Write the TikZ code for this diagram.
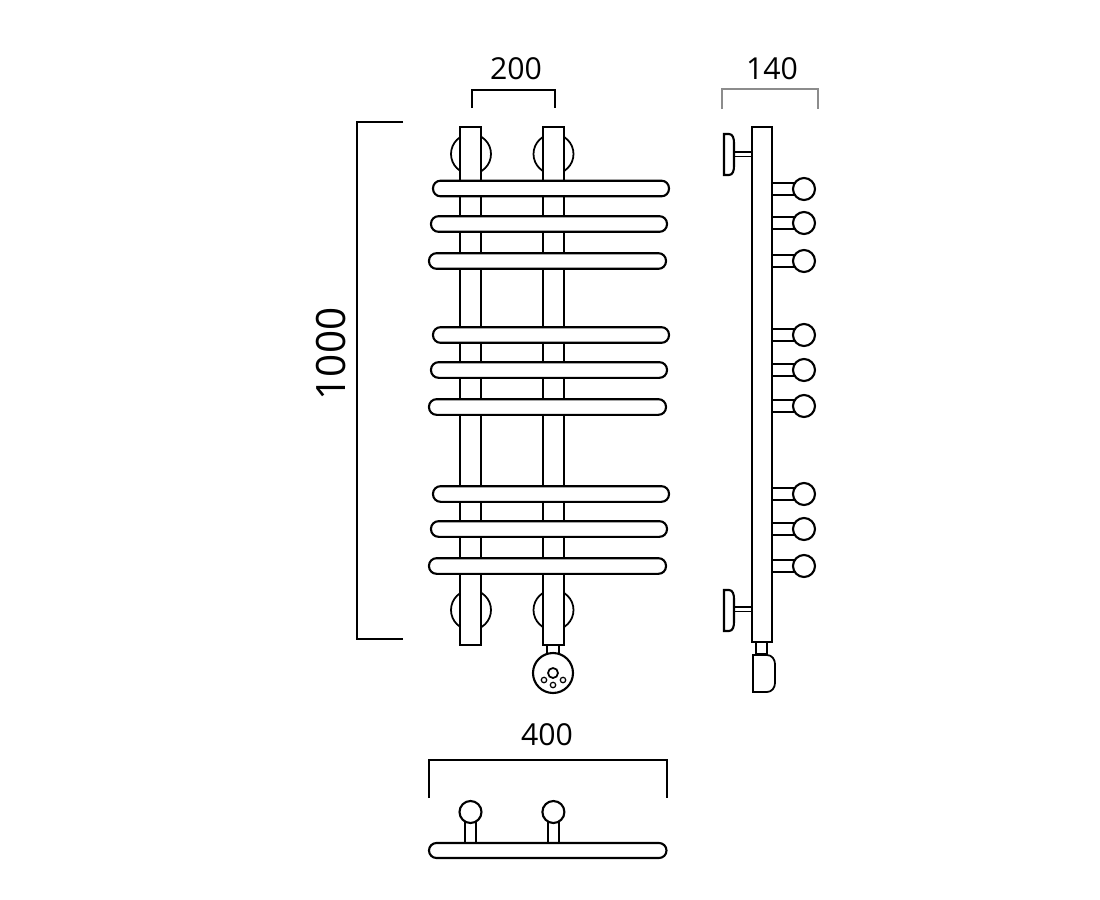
\documentclass[tikz,border=0pt]{standalone}
\usepackage{fontspec}
\setmainfont{Open Sans}
\usepackage{tikz}
\usepackage{xcolor}
\definecolor{dimgray}{gray}{0.55}

\begin{document}
\begin{tikzpicture}[x=0.01cm,y=-0.01cm,
    part/.style={draw=black, line width=0.6pt, fill=white},
    railbar/.style={part, rounded corners=0.075cm},
    dimline/.style={draw=black, line width=0.35pt},
    dimlabel/.style={inner sep=0pt, font=\fontsize{8.6}{10}\selectfont}]
    \useasboundingbox (0,0) rectangle (1100,900);

    % Wall mounts behind the posts
    \foreach \mx in {471,553.5}
        \foreach \my in {154,610}
            \draw[part, line width=0.5pt] (\mx,\my) circle (20);

    % Posts of the front view
    \draw[part] (460,127) rectangle (481,645);
    \draw[part] (543,127) rectangle (564,645);

    % Cross bars
    \foreach \xa/\xb/\yc in {433/669/188.5, 431/667/224, 429/666/261,
                             433/669/335, 431/667/370, 429/666/407,
                             433/669/494, 431/667/529, 429/666/566}
        \draw[railbar] (\xa,\yc-7.8) rectangle (\xb,\yc+7.8);

    % Heating element, front
    \draw[part] (547,645) rectangle (559,654);
    \draw[part] (553,673) circle (20);
    \draw[part, line width=0.5pt] (553,673) circle (5);
    \foreach \hx/\hy in {544/680, 553/685, 563/680}
        \draw[part, line width=0.35pt] (\hx,\hy) circle (2.7);

    % Side view: brackets
    \foreach \py/\sy in {134/152, 590/607}{
        \draw[part, line width=0.5pt] (734,\sy) rectangle (752,\sy+4.5);
        \draw[part] (724,\py) -- (729,\py) to[out=0,in=90] (734,\py+9)
            -- (734,\py+32) to[out=-90,in=0] (729,\py+41) -- (724,\py+41) -- cycle;
    }

    % Side view: knobs
    \foreach \ky in {189,223,261,335,370,406,494,529,566}{
        \draw[part] (771,\ky-6) rectangle (796,\ky+6);
        \draw[part] (804,\ky) circle (11);
    }

    % Side view: post and heating element
    \draw[part, line width=0.7pt] (752,127) rectangle (772,642);
    \draw[part] (756,642) rectangle (767,654.5);
    \draw[part, line width=0.5pt] (753,655) -- (767,655) to[out=0,in=90] (775,664)
        -- (775,683) to[out=-90,in=0] (767,692) -- (753,692) -- cycle;

    % Top view
    \foreach \tx in {470.5,553.4}{
        \draw[part, line width=0.5pt] (\tx-5.6,820) rectangle (\tx+5.6,843);
        \draw[part] (\tx,812) circle (11);
    }
    \draw[railbar] (429,843) rectangle (666.5,858);

    % Dimensions
    \draw[dimline] (472,108) -- (472,90) -- (555,90) -- (555,108);
    \node[dimlabel] (w200) at (516,69) {200};

    \draw[dimline, draw=dimgray] (722,109) -- (722,89) -- (818,89) -- (818,109);
    \node[dimlabel] (w140) at (772,69) {140};

    \draw[dimline] (403,122) -- (357,122) -- (357,639) -- (403,639);
    \node[inner sep=0pt, rotate=90, font=\fontsize{11.5}{14}\selectfont] (h1000) at (331,354) {1000};

    \draw[dimline] (429,798) -- (429,760) -- (667,760) -- (667,798);
    \node[dimlabel] (w400) at (547,735) {400};
\end{tikzpicture}
\end{document}
